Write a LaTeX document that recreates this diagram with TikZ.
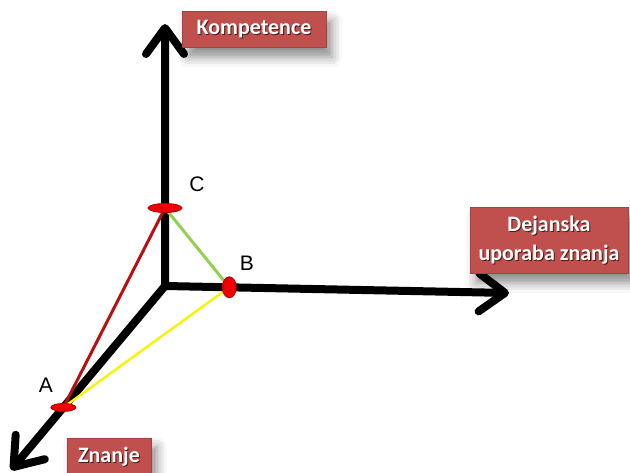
\documentclass[tikz,border=0pt]{standalone}
\usepackage{fontspec}
\setmainfont{Carlito}
\newfontfamily\labelfont{Liberation Sans}
\usetikzlibrary{arrows.meta,shapes.geometric,shadows.blur,calc}

\definecolor{boxred}{HTML}{C0504D}
\definecolor{boxedge}{HTML}{A8403D}
\definecolor{pointred}{HTML}{F00000}
\definecolor{pointedge}{HTML}{B00000}
\definecolor{linered}{HTML}{B81010}
\definecolor{linegreen}{HTML}{92D050}
\definecolor{lineyellow}{HTML}{F5F50A}
\definecolor{textshade}{HTML}{4A1C1A}

% white lettering with a dark drop shade
\newcommand\shadetext[1]{\rlap{\kern1pt\raisebox{-1pt}{\color{textshade}#1}}#1}

\tikzset{
  barb/.tip={Straight Barb[length=26pt,width=38pt,round]},
  axis/.style={line width=8pt, black, line join=round, line cap=round},
  tagbox/.style={fill=boxred, draw=boxedge, line width=1pt, text=white,
    font=\bfseries\fontsize{22}{29}\selectfont, align=center, inner sep=0pt,
    blur shadow={shadow xshift=6pt, shadow yshift=-9pt, shadow blur radius=10pt, shadow opacity=45}},
  pointmark/.style={ellipse, fill=pointred, draw=pointedge, line width=0.8pt, inner sep=0pt},
  letter/.style={font=\labelfont\fontsize{21}{21}\selectfont, text=black, inner sep=0pt},
  edge/.style={line width=3pt}
}

\begin{document}
\begin{tikzpicture}[x=1pt,y=-1pt]
  \useasboundingbox (0,0) rectangle (630,473);

  % axes
  \coordinate (O) at (165,286);
  \coordinate (up) at (165,24);
  \coordinate (right) at (509,293);
  \coordinate (down) at (11,470);

  \draw[axis, barb-barb] (up) -- (O) -- (right);
  \draw[axis, -barb] (O) -- (down);

  % points on the axes
  \coordinate (pC) at (165,208);
  \coordinate (pB) at ($(O)!0.187!(right)$);
  \coordinate (pA) at ($(O)!0.66!(down)$);

  % triangle edges
  \draw[edge, linered] (pC) -- (pA);
  \draw[edge, linegreen] (pC) -- (pB);
  \draw[edge, lineyellow, line width=2.5pt] (pA) -- (pB);

  \node[pointmark, minimum width=34pt, minimum height=9pt] (C) at (pC) {};
  \node[pointmark, minimum width=14pt, minimum height=21pt] (B) at (pB) {};
  \node[pointmark, minimum width=25pt, minimum height=8pt] (A) at (pA) {};

  \node[letter] (labC) at (197,184) {C};
  \node[letter] (labB) at (247,263) {B};
  \node[letter] (labA) at (46,385) {A};

  % axis captions
  \node[tagbox, minimum width=144pt, minimum height=36pt] (komp) at (254,30) {\shadetext{Kompetence}};
  \node[tagbox, minimum width=158pt, minimum height=66pt] (dej) at (549,241)
    {\shadetext{Dejanska}\\\shadetext{uporaba znanja}};
  \node[tagbox, minimum width=84pt, minimum height=38pt] (zn) at (109,457) {\shadetext{Znanje}};
\end{tikzpicture}
\end{document}
